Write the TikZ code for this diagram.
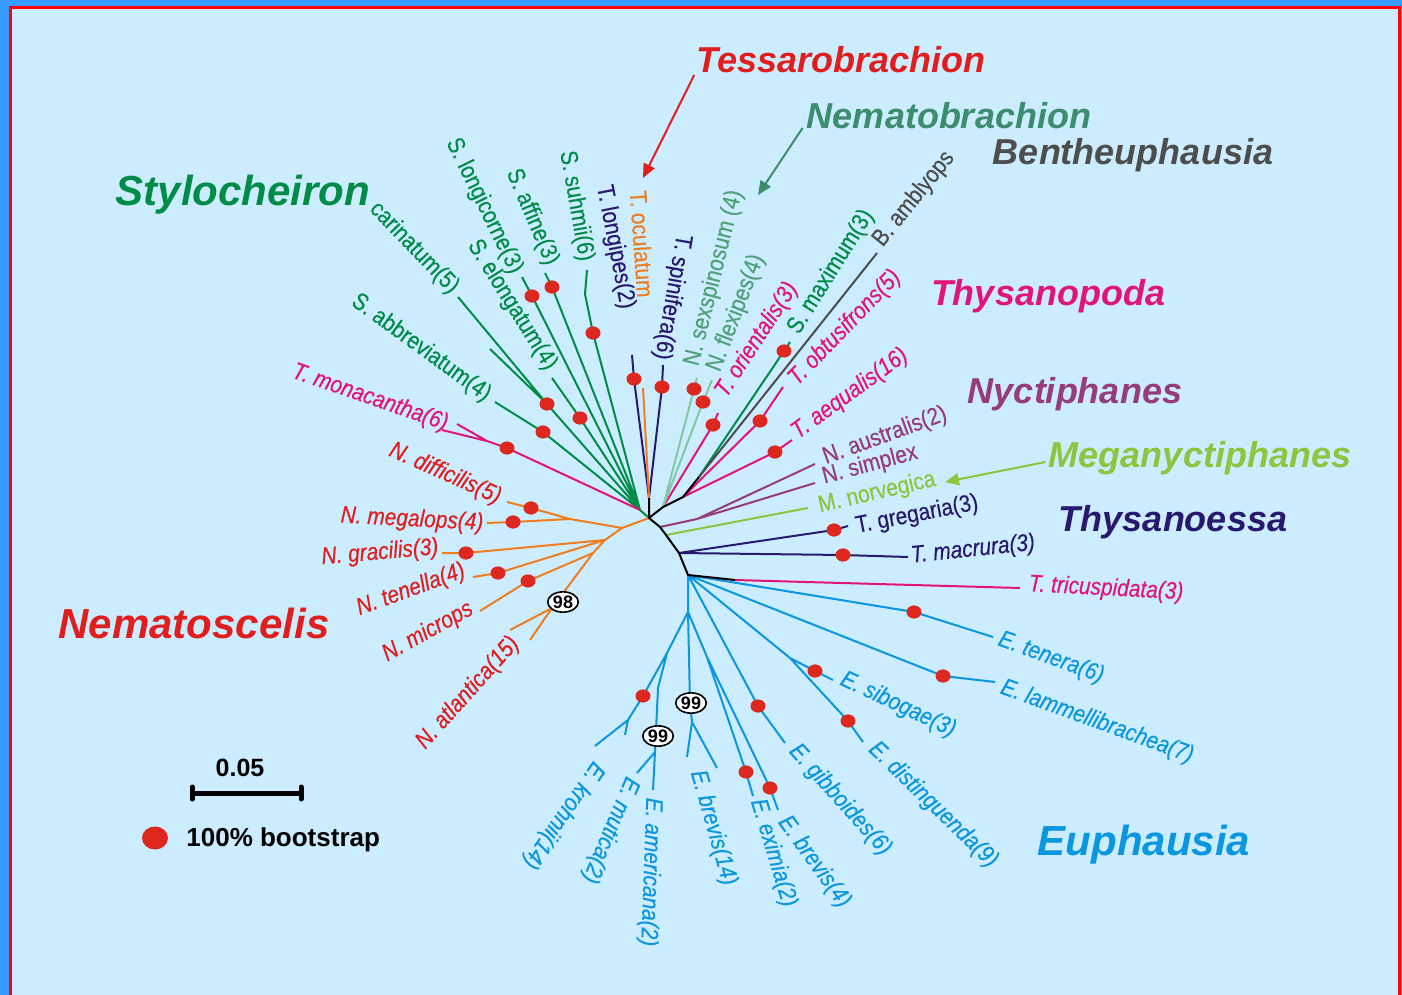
\documentclass[tikz,border=0pt]{standalone}
\usepackage{fontspec}
\setmainfont{Liberation Sans}
\newfontfamily\labfont[FakeStretch=0.87,FakeBold=0.4]{Liberation Sans}
\usetikzlibrary{arrows.meta,shapes.geometric}
\definecolor{outerblue}{RGB}{58,155,255}
\definecolor{paleblue}{RGB}{204,236,255}
\definecolor{framered}{RGB}{255,0,0}
\definecolor{dotred}{RGB}{220,40,30}
\definecolor{stygreen}{RGB}{0,140,70}
\definecolor{nbteal}{RGB}{60,140,110}
\definecolor{nblight}{RGB}{130,200,160}
\definecolor{nblab}{RGB}{80,160,120}
\definecolor{tpmag}{RGB}{225,20,120}
\definecolor{nypurple}{RGB}{150,60,120}
\definecolor{mnlime}{RGB}{140,198,63}
\definecolor{tenavy}{RGB}{40,25,110}
\definecolor{bngrey}{RGB}{77,77,77}
\definecolor{nmorange}{RGB}{240,125,30}
\definecolor{nmred}{RGB}{225,30,30}
\definecolor{eublue}{RGB}{10,150,225}

\begin{document}
\begin{tikzpicture}[x=0.5pt, y=-0.5pt,
  br/.style={line width=1pt},
  dot/.style={ellipse, fill=dotred, inner sep=0pt, minimum width=7.5pt, minimum height=6.6pt},
  lab/.style={font=\labfont\fontsize{12}{14}\selectfont, inner sep=0pt},
  labi/.style={lab, font=\labfont\itshape\fontsize{12}{14}\selectfont},
  genus/.style={font=\bfseries\itshape\fontsize{18}{20}\selectfont, anchor=base, inner sep=0pt},
  biggenus/.style={genus, font=\bfseries\itshape\fontsize{21}{24}\selectfont},
  boot/.style={ellipse, draw=black, fill=white, line width=0.8pt, inner sep=0.4pt, font=\bfseries\fontsize{9}{10}\selectfont},
  pointer/.style={-{Triangle[length=7pt,width=6pt]}, line width=1pt}
]
\useasboundingbox (0,0) rectangle (1402,995);
% background and frame
\fill[outerblue] (0,0) rectangle (1402,995);
\fill[paleblue] (10,6) rectangle (1400,995);
\draw[framered, line width=1.4pt] (10.5,995) -- (10.5,7.5) -- (1399.5,7.5) -- (1399.5,995);

% hubs of the tree
\coordinate (root) at (649,518);
\coordinate (hs) at (649,498);
\coordinate (hg) at (640,510);
\coordinate (hn) at (663,507);
\coordinate (ht) at (683,497);
\coordinate (hb) at (699,477);
\coordinate (hy) at (660,527);
\coordinate (hm) at (666,535);
\coordinate (ho) at (679,553);
\coordinate (he) at (688,575);
\coordinate (hx) at (735,580);

% Stylocheiron
\coordinate (dCar) at (547,404); \coordinate (tCar) at (458,297); \coordinate (tCarb) at (490,349);
\coordinate (dAbb) at (543,432); \coordinate (tAbb) at (495,402);
\coordinate (dElo) at (580,418); \coordinate (tElo) at (552,378);
\coordinate (dLon) at (532,296); \coordinate (tLon) at (522,277);
\coordinate (dAff) at (552,287); \coordinate (tAff) at (545,273);
\coordinate (dSuh) at (593,333); \coordinate (kSuh) at (585,294); \coordinate (tSuh) at (587,270);
\coordinate (dMax) at (784,351); \coordinate (tMax) at (790,342);
% Thysanopoda
\coordinate (dMon) at (507,448); \coordinate (kMon) at (487,441);
\coordinate (tMon) at (442,430); \coordinate (tMonb) at (457,424);
\coordinate (dOri) at (713,425); \coordinate (tOri) at (718,413);
\coordinate (dObt) at (760,421); \coordinate (tObt) at (783,387);
\coordinate (dAeq) at (775,452); \coordinate (tAeq) at (792,440);
\coordinate (tTri) at (1020,588);
% Thysanoessa, Tessarobrachion, Nematobrachion, Bentheuphausia
\coordinate (dLgp) at (634,379); \coordinate (tLgp) at (632,355);
\coordinate (dSpi) at (662,387); \coordinate (tSpi) at (663,365);
\coordinate (tOcu) at (643,388);
\coordinate (dSex) at (694,389); \coordinate (tSex) at (697,378);
\coordinate (dFle) at (703,402); \coordinate (tFle) at (712,380);
\coordinate (tAmb) at (877,253);
\coordinate (dGre) at (834,530); \coordinate (tGre) at (848,526);
\coordinate (dMac) at (843,555); \coordinate (tMac) at (908,557);
% Nyctiphanes, Meganyctiphanes
\coordinate (ky) at (697,519); \coordinate (tAus) at (815,464); \coordinate (tSim) at (815,483);
\coordinate (tNor) at (808,508);
% Euphausia
\coordinate (dTnr) at (914,612); \coordinate (tTnr) at (993,637);
\coordinate (dLam) at (943,676); \coordinate (tLam) at (995,682);
\coordinate (ke) at (790,658);
\coordinate (dSib) at (815,671); \coordinate (tSib) at (833,680);
\coordinate (dDis) at (848,721); \coordinate (tDis) at (863,742);
\coordinate (dGib) at (758,706); \coordinate (tGib) at (785,743);
\coordinate (kj) at (688,612); \coordinate (kk) at (707,657);
\coordinate (dExi) at (746,772); \coordinate (tExi) at (753,796);
\coordinate (dBre) at (770,788); \coordinate (tBre) at (778,810);
\coordinate (kl) at (690,703); \coordinate (kl2) at (692,722);
\coordinate (tBrv) at (687,757); \coordinate (tBrvb) at (717,768);
\coordinate (km) at (667,653); \coordinate (kn) at (658,688); \coordinate (ko) at (655,752);
\coordinate (tAme) at (653,790); \coordinate (tMut) at (637,773);
\coordinate (dKro) at (643,696); \coordinate (kp) at (628,720);
\coordinate (tKro) at (595,746); \coordinate (tKrob) at (625,735);
% Nematoscelis
\coordinate (n1) at (622,528); \coordinate (n1b) at (570,519);
\coordinate (dDif) at (531,508); \coordinate (tDif) at (507,502);
\coordinate (dMeg) at (513,522); \coordinate (tMeg) at (487,523);
\coordinate (n2) at (605,540);
\coordinate (dGra) at (466,553); \coordinate (tGra) at (442,553);
\coordinate (dTel) at (498,573); \coordinate (tTel) at (473,577);
\coordinate (n3) at (593,553);
\coordinate (dMic) at (528,581); \coordinate (tMic) at (480,611);
\coordinate (n4) at (552,608); \coordinate (tAtl) at (510,630); \coordinate (tAtlb) at (530,640);

% branches
\draw[br, stygreen] (root) -- (hg)
  (hg) -- (dCar) -- (tCar) (dCar) -- (tCarb)
  (hg) -- (dAbb) -- (tAbb)
  (hg) -- (dElo) -- (tElo)
  (hg) -- (dLon) -- (tLon)
  (hg) -- (dAff) -- (tAff)
  (hg) -- (dSuh) -- (kSuh) -- (tSuh)
  (hb) -- (dMax) -- (tMax);
\draw[br, tpmag] (hg) -- (dMon) -- (kMon) -- (tMon) (kMon) -- (tMonb)
  (hn) -- (dOri) -- (tOri)
  (ht) -- (dObt) -- (tObt)
  (ht) -- (dAeq) -- (tAeq)
  (hx) -- (tTri);
\draw[br, tenavy] (hs) -- (dLgp) -- (tLgp)
  (hs) -- (dSpi) -- (tSpi)
  (ho) -- (dGre) -- (tGre)
  (ho) -- (dMac) -- (tMac);
\draw[br, nmorange] (hs) -- (tOcu);
\draw[br, nblight] (hn) -- (dSex) -- (tSex) (hn) -- (dFle) -- (tFle);
\draw[br, bngrey] (hb) -- (tAmb);
\draw[br, nypurple] (hy) -- (ky) -- (tAus) (ky) -- (tSim);
\draw[br, mnlime] (hm) -- (tNor);
\draw[br, eublue] (he) -- (dTnr) -- (tTnr)
  (he) -- (dLam) -- (tLam)
  (he) -- (ke) -- (dSib) -- (tSib) (ke) -- (dDis) -- (tDis)
  (he) -- (dGib) -- (tGib)
  (he) -- (kj) -- (kk) -- (dExi) -- (tExi) (kk) -- (dBre) -- (tBre)
  (kj) -- (kl) -- (kl2) -- (tBrv) (kl2) -- (tBrvb)
  (kj) -- (km) -- (kn) -- (ko) -- (tAme) (ko) -- (tMut)
  (km) -- (dKro) -- (kp) -- (tKro) (kp) -- (tKrob);
\draw[br, nmorange] (root) -- (n1) -- (n2) -- (n3) -- (n4)
  (n1) -- (n1b) -- (dMeg) -- (tMeg) (n1b) -- (dDif) -- (tDif)
  (n2) -- (dGra) -- (tGra)
  (n2) -- (dTel) -- (tTel)
  (n3) -- (dMic) -- (tMic)
  (n4) -- (tAtl) (n4) -- (tAtlb);
\draw[br, black, line join=round] (root) -- (hs)
  (root) -- (hn) -- (ht) -- (hb)
  (root) -- (hy) -- (hm) -- (ho) -- (he) -- (hx);

% 100% bootstrap dots
\foreach \d in {dCar,dAbb,dElo,dLon,dAff,dSuh,dMax,dMon,dOri,dObt,dAeq,dLgp,dSpi,
  dSex,dFle,dGre,dMac,dTnr,dLam,dSib,dDis,dGib,dExi,dBre,dKro,dDif,dMeg,dGra,dTel,dMic}
  \node[dot] at (\d) {};

% bootstrap values
\node[boot] (b98) at (563,602) {98};
\node[boot] (b99a) at (691,703) {99};
\node[boot] (b99b) at (658,736) {99};

% leaf labels
\node[lab, stygreen, rotate=-46] (lCar) at (414,248) {carinatum(5)};
\node[lab, stygreen, rotate=-36] (lAbb) at (421,348) {S. abbreviatum(4)};
\node[lab, stygreen, rotate=-58] (lElo) at (512,305) {S. elongatum(4)};
\node[lab, stygreen, rotate=-64] (lLon) at (484,206) {S. longicorne(3)};
\node[lab, stygreen, rotate=-67] (lAff) at (532,217) {S. affine(3)};
\node[lab, stygreen, rotate=-80] (lSuh) at (576,206) {S. suhmii(6)};
\node[lab, tenavy, rotate=-79] (lLgp) at (615,247) {T. longipes(2)};
\node[lab, nmorange, rotate=-86] (lOcu) at (642,244) {T. oculatum};
\node[lab, tenavy, rotate=-100] (lSpi) at (672,297) {T. spinifera(6)};
\node[lab, nblab, rotate=76] (lSex) at (714,278) {N. sexspinosum (4)};
\node[lab, nblab, rotate=69] (lFle) at (736,313) {N. flexipes(4)};
\node[labi, tpmag, rotate=57] (lOri) at (757,340) {T. orientalis(3)};
\node[lab, stygreen, rotate=58] (lMax) at (831,272) {S. maximum(3)};
\node[lab, bngrey, rotate=51] (lAmb) at (914,199) {B. amblyops};
\node[labi, tpmag, rotate=46] (lObt) at (845,328) {T. obtusifrons(5)};
\node[labi, tpmag, rotate=36] (lAeq) at (850,394) {T. aequalis(16)};
\node[lab, nypurple, rotate=20] (lAus) at (885,436) {N. australis(2)};
\node[lab, nypurple, rotate=15] (lSim) at (870,465) {N. simplex};
\node[lab, mnlime, rotate=13] (lNor) at (877,493) {M. norvegica};
\node[lab, tenavy, rotate=11] (lGre) at (917,515) {T. gregaria(3)};
\node[labi, tenavy, rotate=6] (lMac) at (973,550) {T. macrura(3)};
\node[labi, tpmag, rotate=-3] (lTri) at (1106,589) {T. tricuspidata(3)};
\node[labi, eublue, rotate=-20] (lTnr) at (1051,658) {E. tenera(6)};
\node[labi, eublue, rotate=-20] (lLam) at (1097,722) {E. lammellibrachea(7)};
\node[labi, eublue, rotate=-25] (lSib) at (898,705) {E. sibogae(3)};
\node[labi, eublue, rotate=-44] (lDis) at (933,805) {E. distinguenda(9)};
\node[labi, eublue, rotate=-48] (lGib) at (840,800) {E. gibboides(6)};
\node[labi, eublue, rotate=-54] (lBre) at (814,862) {E. brevis(4)};
\node[labi, eublue, rotate=-73] (lExi) at (773,853) {E. eximia(2)};
\node[labi, eublue, rotate=-74] (lBrv) at (713,828) {E. brevis(14)};
\node[labi, eublue, rotate=-92] (lAme) at (650,872) {E. americana(2)};
\node[labi, eublue, rotate=-113] (lMut) at (610,830) {E. mutica(2)};
\node[labi, eublue, rotate=-125] (lKro) at (563,815) {E. krohnii(14)};
\node[labi, tpmag, rotate=-19] (lMon) at (370,398) {T. monacantha(6)};
\node[labi, nmred, rotate=-24] (lDif) at (445,474) {N. difficilis(5)};
\node[labi, nmred, rotate=-3] (lMeg) at (412,520) {N. megalops(4)};
\node[labi, nmred, rotate=5] (lGra) at (380,553) {N. gracilis(3)};
\node[labi, nmred, rotate=20] (lTel) at (411,590) {N. tenella(4)};
\node[labi, nmred, rotate=29] (lMic) at (428,632) {N. microps};
\node[labi, nmred, rotate=48] (lAtl) at (468,693) {N. atlantica(15)};

% genus names
\node[genus, nmred] (gTes) at (841,73) {Tessarobrachion};
\node[genus, nbteal] (gNeb) at (949,128) {Nematobrachion};
\node[genus, bngrey] (gBen) at (1133,164) {Bentheuphausia};
\node[biggenus, stygreen] (gSty) at (243,205) {Stylocheiron};
\node[genus, tpmag] (gThp) at (1048,305) {Thysanopoda};
\node[genus, nypurple] (gNyc) at (1075,403) {Nyctiphanes};
\node[genus, mnlime] (gMeg) at (1200,467) {Meganyctiphanes};
\node[genus, tenavy] (gThs) at (1173,531) {Thysanoessa};
\node[biggenus, nmred] (gNem) at (194,638) {Nematoscelis};
\node[biggenus, eublue] (gEup) at (1144,855) {Euphausia};

% pointers
\coordinate (aTes) at (643,178);
\coordinate (aNeb) at (758,195);
\coordinate (aMeg) at (945,482);
\draw[pointer, nmred] (gTes.base west) ++(-2,2) -- (aTes);
\draw[pointer, nbteal] (gNeb.base west) ++(-4,0) -- (aNeb);
\draw[pointer, mnlime] (gMeg.base west) ++(-3,-5) -- (aMeg);

% scale bar and legend
\coordinate (sbL) at (192,793);
\coordinate (sbR) at (301,793);
\draw[line width=2.5pt] (sbL) -- (sbR);
\draw[line width=2.5pt, line cap=round] (sbL) ++(0,-6) -- ++(0,12) (sbR) ++(0,-6) -- ++(0,12);
\node[font=\bfseries\fontsize{12.5}{14}\selectfont] (sbT) at (240,768) {0.05};
\node[dot, minimum width=13pt, minimum height=11.5pt] (legDot) at (155,838) {};
\node[anchor=west, inner sep=0pt, font=\bfseries\fontsize{13}{15}\selectfont] (legTxt) at (186,840) {100\% bootstrap};
\end{tikzpicture}
\end{document}
